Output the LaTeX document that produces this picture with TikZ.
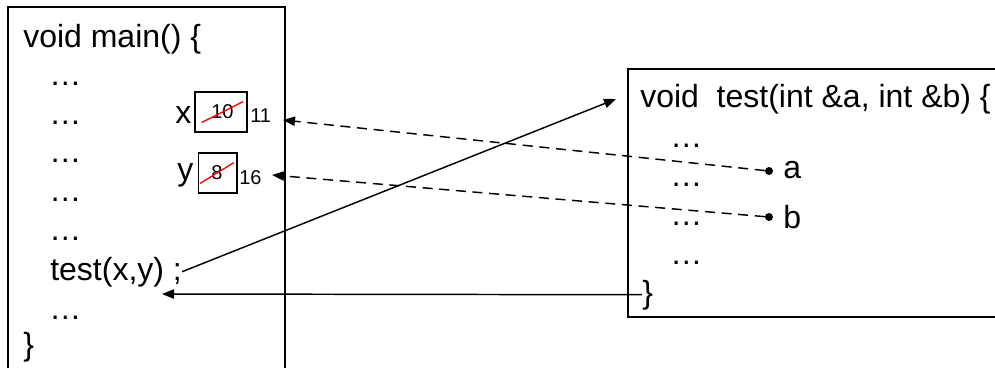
\documentclass[tikz,border=0pt]{standalone}
\usepackage{fontspec}
\setmainfont{Liberation Sans}
\usetikzlibrary{arrows.meta,shapes.misc}

\begin{document}
\begin{tikzpicture}[
  x=0.75pt, y=-0.75pt,
  >={Triangle[length=9pt, width=7pt]},
  every node/.style={font=\fontsize{24}{28}\selectfont},
  codeline/.style={anchor=base west, inner sep=0pt},
  valbox/.style={rectangle, draw=black, line width=1pt},
  oldval/.style={strike out, draw=red, line width=1pt, inner ysep=2pt, font=\fontsize{15}{18}\selectfont},
  newval/.style={anchor=base west, inner sep=0pt, font=\fontsize{15}{18}\selectfont},
  refdot/.style={circle, fill=black, minimum size=6pt, inner sep=0pt},
  frame/.style={line width=1.2pt},
  callarrow/.style={->, line width=1.1pt},
  refarrow/.style={->, line width=1.1pt, dash pattern=on 7.5pt off 5pt},
]
\useasboundingbox (0,0) rectangle (995,368);

% ---- frames of the two functions (cut by the picture edge) ----
\draw[frame] (8,368) -- (8,7) -- (285,7) -- (285,368);
\draw[frame] (995,69) -- (628,69) -- (628,317) -- (995,317);

% ---- main() ----
\node[codeline] (mainhead) at (23,47)  {void main() \{};
\node[codeline] (md1)      at (49,85)  {…};
\node[codeline] (md2)      at (49,124) {…};
\node[codeline] (md3)      at (49,162) {…};
\node[codeline] (md4)      at (49,201) {…};
\node[codeline] (md5)      at (49,240) {…};
\node[codeline] (callx)    at (50,280) {test(x,y) ;};
\node[codeline] (md6)      at (49,319) {…};
\node[codeline] (mainend)  at (23,355) {\}};

% ---- variables x and y ----
\node[codeline] (xlbl) at (175,123) {x};
\node[valbox, minimum width=39pt, minimum height=30pt] (xbox) at (221,112) {};
\node[oldval, inner xsep=6.75pt] (xold) at (222.5,112) {10};
\node[newval] (xnew) at (250,122) {11};
\node[codeline] (ylbl) at (177,180) {y};
\node[valbox, minimum width=29pt, minimum height=30pt] (ybox) at (217.5,173) {};
\node[oldval, inner xsep=8pt] (yold) at (217,173) {8};
\node[newval] (ynew) at (239,184) {16};

% ---- test(int &a, int &b) ----
\node[codeline] (testhead) at (640,107) {void\ \ test(int \&a, int \&b) \{};
\node[codeline] (td1)      at (670,147) {…};
\node[codeline] (td2)      at (670,186) {…};
\node[codeline] (td3)      at (670,225) {…};
\node[codeline] (td4)      at (670,264) {…};
\node[codeline] (testend)  at (642,303) {\}};
\node[refdot] (refa) at (769,171) {};
\node[codeline] (parama) at (783,178) {a};
\node[refdot] (refb) at (769,217) {};
\node[codeline] (paramb) at (783,228) {b};

% ---- arrow ends ----
\coordinate (callin) at (616,99);
\coordinate (retin)  at (162,294);
\coordinate (xin)    at (283,120);
\coordinate (yin)    at (272,175);

% ---- call and return ----
\draw[callarrow] (callx.east) -- (callin);
\draw[callarrow] (testend.west) -- (retin);

% ---- references a -> x, b -> y ----
\draw[refarrow] (refa) -- (xin);
\draw[refarrow] (refb) -- (yin);

\end{tikzpicture}
\end{document}
